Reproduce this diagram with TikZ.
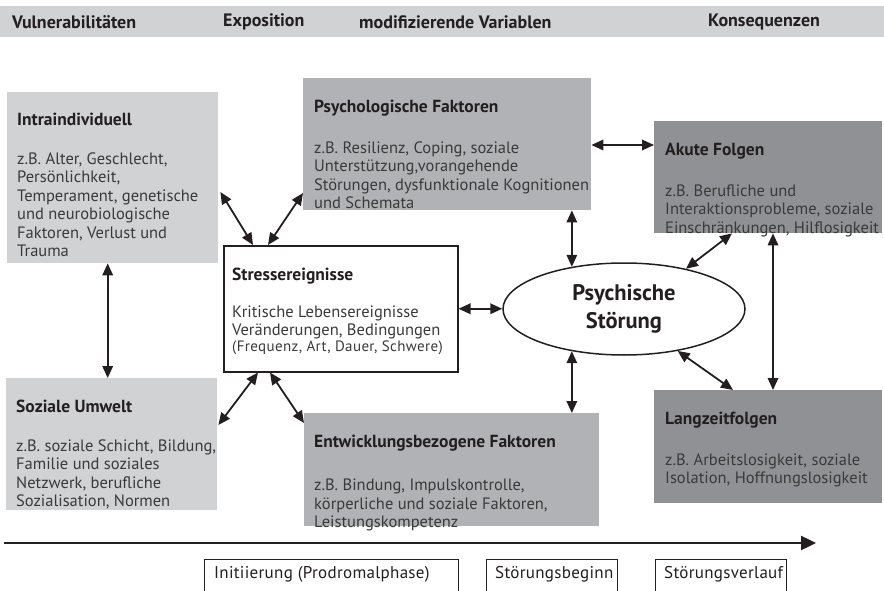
\documentclass[tikz,border=0pt]{standalone}
\usepackage{fontspec}
\setmainfont{PT Sans}
\usetikzlibrary{arrows.meta,shapes.geometric,calc}
\definecolor{gA}{HTML}{D1D2D4}
\definecolor{gB}{HTML}{B1B2B5}
\definecolor{gC}{HTML}{909194}
\definecolor{ink}{HTML}{231F20}
\definecolor{bodyink}{HTML}{3A3A3A}
\newcommand\bxt[3][22.5pt]{\parbox[t]{300pt}{\raggedright\fontsize{16.5}{18.5}\selectfont{\fontsize{17.5}{18.5}\selectfont\bfseries\color{ink}#2}\\[#1]\color{bodyink}#3}}
\begin{document}
\begin{tikzpicture}[x=1pt,y=-1pt,
  panel/.style={draw=none,inner sep=0,anchor=north west},
  boxtext/.style={anchor=base west,inner sep=0},
  head/.style={anchor=west,inner sep=0,font=\fontsize{18}{20}\selectfont\bfseries,text=ink},
  arr/.style={{Triangle[length=12pt,width=10.5pt]}-{Triangle[length=12pt,width=10.5pt]},line width=1.8pt,draw=ink},
  phase/.style={draw=ink,line width=1.2pt,fill=white,inner sep=0,anchor=north west,minimum height=50pt},
  phasetext/.style={anchor=base west,inner sep=0,font=\fontsize{17}{20}\selectfont\addfontfeature{LetterSpace=1.8},text=ink}]
\useasboundingbox (0,0) rectangle (884,591);
\fill[gA] (0,6) rectangle (884,37);
\node[head] (h1) at (12,22) {Vulnerabilitäten};
\node[head] (h2) at (223,22) {Exposition};
\node[head] (h3) at (359,22) {modifizierende Variablen};
\node[head] (h4) at (708,22) {Konsequenzen};

\node[panel,fill=gA,minimum width=211pt,minimum height=171pt] (intra) at (7,92) {};
\node[panel,fill=gB,minimum width=288pt,minimum height=132pt] (psych) at (303,78) {};
\node[panel,fill=gC,minimum width=228pt,minimum height=112pt] (akute) at (654,121) {};
\node[panel,draw=ink,line width=1.5pt,fill=white,minimum width=234pt,minimum height=126pt] (stress) at (223,245) {};
\node[panel,fill=gA,minimum width=211pt,minimum height=132pt] (soziale) at (6,378) {};
\node[panel,fill=gB,minimum width=295pt,minimum height=113pt] (entw) at (304,413) {};
\node[panel,fill=gC,minimum width=228pt,minimum height=113pt] (lang) at (654,390) {};

\node[boxtext] (intra-t) at ([xshift=10pt,yshift=-21pt]intra.north west)
  {\bxt[20.5pt]{Intraindividuell}{z.B. Alter, Geschlecht,\\Persönlichkeit,\\Temperament, genetische\\und neurobiologische\\Faktoren, Verlust und\\Trauma}};
\node[boxtext] (psych-t) at ([xshift=11pt,yshift=-22pt]psych.north west)
  {\bxt{Psychologische Faktoren}{z.B. Resilienz, Coping, soziale\\Unterstützung,vorangehende\\Störungen, dysfunktionale Kognitionen\\und Schemata}};
\node[boxtext] (akute-t) at ([xshift=11pt,yshift=-22pt]akute.north west)
  {\bxt{Akute Folgen}{z.B. Berufliche und\\Interaktionsprobleme, soziale\\Einschränkungen, Hilflosigkeit}};
\node[boxtext] (stress-t) at ([xshift=9pt,yshift=-23pt]stress.north west)
  {\bxt[18.5pt]{Stressereignisse}{Kritische Lebensereignisse\\Veränderungen, Bedingungen\par\fontsize{15}{15.5}\selectfont\addfontfeature{LetterSpace=2.5}(Frequenz, Art, Dauer, Schwere)}};
\node[boxtext] (soziale-t) at ([xshift=10pt,yshift=-22pt]soziale.north west)
  {\bxt[20.5pt]{Soziale Umwelt}{z.B. soziale Schicht, Bildung,\\Familie und soziales\\Netzwerk, berufliche\\Sozialisation, Normen}};
\node[boxtext] (entw-t) at ([xshift=10pt,yshift=-22pt]entw.north west)
  {\bxt[25pt]{Entwicklungsbezogene Faktoren}{z.B. Bindung, Impulskontrolle,\\körperliche und soziale Faktoren,\\Leistungskompetenz}};
\node[boxtext] (lang-t) at ([xshift=11pt,yshift=-22pt]lang.north west)
  {\bxt{Langzeitfolgen}{z.B. Arbeitslosigkeit, soziale\\Isolation, Hoffnungslosigkeit}};

\node[ellipse,draw=ink,line width=1.5pt,fill=white,minimum width=242pt,minimum height=92pt,inner sep=0,
  font=\fontsize{22.5}{28}\selectfont\bfseries,text=ink,align=center] (ell) at (624,309) {Psychische\\Störung};

\draw[arr] ([xshift=2pt,yshift=-100pt]intra.north east) -- ([xshift=30pt]stress.north west);
\draw[arr] ([yshift=-115pt]psych.north west) -- ([xshift=45pt]stress.north west);
\draw[arr] ([xshift=1pt,yshift=-47pt]soziale.north east) -- ([xshift=35pt]stress.south west);
\draw[arr] ([yshift=-10pt]entw.north west) -- ([xshift=47pt]stress.south west);
\coordinate (is) at ([xshift=-5pt]intra.south);
\draw[arr] (is) -- (is |- soziale.north);
\coordinate (pa) at ([yshift=-67pt]psych.north east);
\draw[arr] (pa) -- (pa -| akute.west);
\draw[arr] (ell.141 |- psych.south) -- (ell.141);
\draw[arr] (ell.219) -- (ell.219 |- entw.north);
\draw[arr] (stress.east) -- (stress.east -| ell.west);
\draw[arr] (ell.33) -- ([xshift=78pt]akute.south west);
\draw[arr] (ell.322) -- ([xshift=79pt]lang.north west);
\draw[arr] ([xshift=119pt]akute.south west) -- ([xshift=119pt]lang.north west);

\coordinate (t0) at (4,543);
\coordinate (t1) at (816,543);
\draw[line width=2.4pt,draw=ink,-{Triangle[length=15pt,width=14pt]}] (t0) -- (t1);

\node[phase,minimum width=254pt] (p1) at (204,559) {};
\node[phase,minimum width=131pt] (p2) at (486,559) {};
\node[phase,minimum width=131pt] (p3) at (655,559) {};
\node[phasetext] (p1t) at ([xshift=10pt,yshift=-19pt]p1.north west) {Initiierung (Prodromalphase)};
\node[phasetext] (p2t) at ([xshift=9pt,yshift=-19pt]p2.north west) {Störungsbeginn};
\node[phasetext] (p3t) at ([xshift=9pt,yshift=-19pt]p3.north west) {Störungsverlauf};
\end{tikzpicture}
\end{document}
